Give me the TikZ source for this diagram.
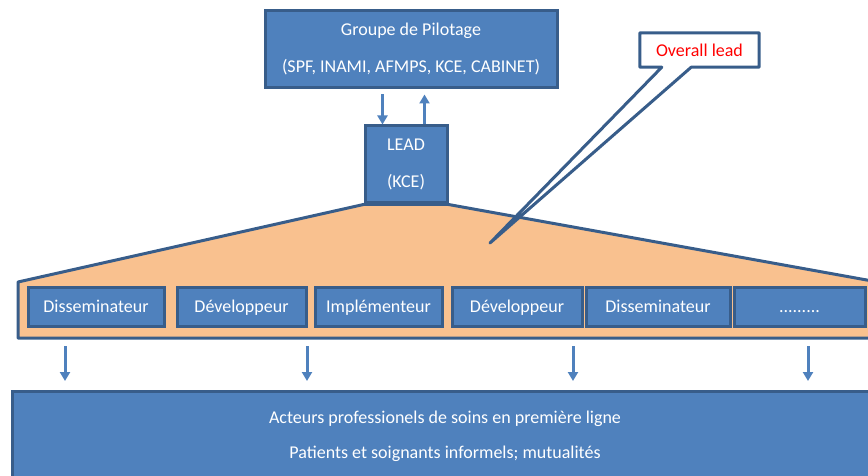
\documentclass[tikz,border=0pt]{standalone}
\usepackage{fontspec}
\setmainfont{Carlito}
\usetikzlibrary{arrows.meta,calc}
\definecolor{bfill}{HTML}{4F81BD}
\definecolor{bline}{HTML}{385D8A}
\definecolor{ofill}{HTML}{F9C18F}
\definecolor{calred}{HTML}{FF0000}
\pgfdeclarelayer{bg}
\pgfdeclarelayer{mid}
\pgfsetlayers{bg,mid,main}
\begin{document}
\begin{tikzpicture}[x=1pt,y=-1pt,font=\fontsize{18}{37}\selectfont,
  box/.style={draw=bline,fill=bfill,line width=3pt,text=white,inner sep=0pt},
  role/.style={box,minimum height=39pt,text height=14pt,text depth=3pt},
  arr/.style={draw=bfill,line width=3pt,-{Triangle[length=9pt,width=10pt]}},
  outline/.style={draw=bline,line width=3pt,line join=round}]
\useasboundingbox (0,0) rectangle (868,476);
\clip (0,0) rectangle (868,476);
% top boxes
\node[box,minimum width=292pt,minimum height=77pt,align=center] (top) at (411,49.5)
  {Groupe de Pilotage\\(SPF, INAMI, AFMPS, KCE, CABINET)};
\node[box,minimum width=82pt,minimum height=77pt,align=center] (lead) at (406,164.5)
  {LEAD\\(KCE)};
% arrows between
\draw[arr] ($([xshift=19pt]lead.north west |- top.south)+(0,5)$) -- ([xshift=19pt]lead.north west);
\draw[arr] ([xshift=-24pt]lead.north east) -- ($([xshift=-24pt]lead.north east |- top.south)+(0,5)$);
% trapezoid
\begin{pgfonlayer}{bg}
\draw[outline,fill=ofill] (lead.south west) -- (18,282) -- (18,338) -- (900,338) -- (900,286) -- (lead.south east) -- cycle;
\end{pgfonlayer}
% role boxes
\node[role,minimum width=136pt] (r1) at (96,306.5) {Disseminateur};
\node[role,minimum width=129pt] (r2) at (241.5,306.5) {Développeur};
\node[role,minimum width=127pt] (r3) at (378.5,306.5) {Implémenteur};
\node[role,minimum width=130pt] (r4) at (517,306.5) {Développeur};
\node[role,minimum width=144pt] (r5) at (658,306.5) {Disseminateur};
\node[role,minimum width=131pt] (r6) at (799.5,306.5) {.........};
% callout
\node[minimum width=119pt,minimum height=34pt,inner sep=0pt,text=calred] (callout) at (699.5,50) {Overall lead};
\coordinate (tip) at (490,243);
\begin{pgfonlayer}{mid}
\draw[outline,fill=white] (callout.north west) -- (callout.north east) -- (callout.south east)
  -- ([xshift=-68pt]callout.south east) -- (tip) -- ([xshift=22pt]callout.south west)
  -- (callout.south west) -- cycle;
\end{pgfonlayer}
% bottom box
\node[box,minimum width=900pt,minimum height=100pt,anchor=north west] (bottom) at (11,390) {};
\node[text=white,align=center,font=\fontsize{18}{35}\selectfont] (bottomtext) at (445,436)
  {Acteurs professionels de soins en première ligne\\Patients et soignants informels; mutualités};
% down arrows
\coordinate (tb) at (0,346);
\foreach \x in {65,307,573,808}
  \draw[arr,shorten >=9pt] (tb -| \x,0) -- (bottom.north -| \x,0);
\end{tikzpicture}
\end{document}
